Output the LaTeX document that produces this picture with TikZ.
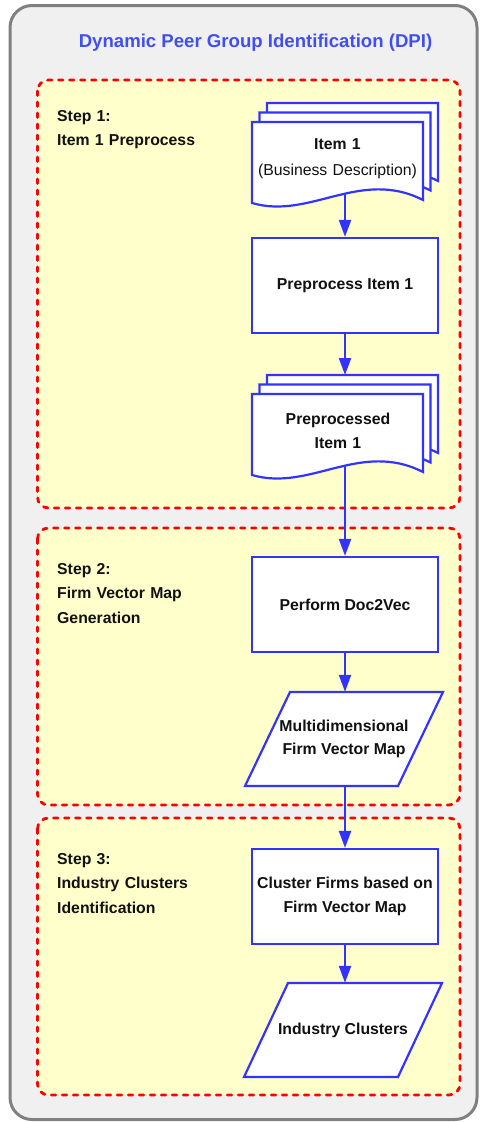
\documentclass[tikz,border=0pt]{standalone}
\usepackage{fontspec}
\setmainfont{Liberation Sans}
\usetikzlibrary{arrows.meta,calc}

\definecolor{flowblue}{RGB}{51,51,255}
\definecolor{titleblue}{RGB}{64,80,240}
\definecolor{stepfill}{RGB}{255,255,204}
\definecolor{panelfill}{RGB}{240,240,240}
\definecolor{panelrim}{RGB}{128,128,128}
\definecolor{inkblack}{RGB}{17,17,17}

\begin{document}
\begin{tikzpicture}[x=1pt,y=-1pt,
  panel/.style={draw=panelrim, line width=3pt, fill=panelfill, rounded corners=22pt},
  stepzone/.style={draw=red, fill=stepfill, line width=2.8pt,
    dash pattern=on 4.5pt off 6.5pt, line cap=round, rounded corners=11pt},
  titletext/.style={anchor=base, inner sep=0pt, text=titleblue,
    font=\fontsize{18.6}{22}\selectfont\bfseries},
  steplabel/.style={anchor=base west, text width=190pt, align=left, inner sep=0pt,
    font=\fontsize{15.8}{24.5}\selectfont\bfseries, text=inkblack},
  procbox/.style={draw=flowblue, fill=white, line width=2.2pt, minimum width=186pt,
    minimum height=95pt, align=center, inner sep=0pt,
    font=\fontsize{15.8}{24}\selectfont\bfseries, text=inkblack},
  sheet/.style={draw=flowblue, fill=white, line width=2.2pt},
  doctext/.style={anchor=base, text width=171pt, align=center, inner sep=0pt,
    font=\fontsize{15.8}{24}\selectfont\bfseries, text=inkblack},
  datatext/.style={minimum width=198pt, minimum height=94pt, align=center, inner sep=0pt,
    font=\fontsize{15.8}{23.5}\selectfont\bfseries, text=inkblack},
  flow/.style={draw=flowblue, line width=2.2pt, -{Triangle[length=17pt,width=12pt]}},
  docsheet/.pic={\draw[sheet] (0,0) -- (171,0) -- (171,78)
    .. controls (108,46) and (58,98) .. (0,81) -- cycle;}
]
\useasboundingbox (0,0) rectangle (481,1122);

% outer panel and the three step zones
\draw[panel] (10,5.5) rectangle (477,1119.5);
\draw[stepzone] (37.5,80) rectangle (460,508);
\draw[stepzone] (37.5,528) rectangle (460,805);
\draw[stepzone] (37.5,818) rectangle (460,1095);

\node[titletext] (title) at (255.5,47.7) {Dynamic Peer Group Identification (DPI)};

\node[steplabel] (s1) at (57,121) {Step 1:\\Item 1 Preprocess};
\node[steplabel] (s2) at (57,574) {Step 2:\\Firm Vector Map\\Generation};
\node[steplabel] (s3) at (57,864) {Step 3:\\Industry Clusters\\Identification};

% input document stack
\pic at (267,103) {docsheet};
\pic at (259.5,112.5) {docsheet};
\pic at (252,122) {docsheet};
\node[doctext, font=\fontsize{15.8}{26}\selectfont\bfseries] (d1) at (337.5,149)
  {Item 1\\{\mdseries (Business Description)}};
\coordinate (d1out) at (345,194);

\node[procbox] (pre) at (345,285.5) {Preprocess Item 1};

% preprocessed document stack
\pic at (267,375) {docsheet};
\pic at (259.5,384.5) {docsheet};
\pic at (252,394) {docsheet};
\node[doctext] (d2) at (338,424) {Preprocessed\\Item 1};
\coordinate (d2in) at (345,375);
\coordinate (d2out) at (345,466);

\node[procbox] (vec) at (345,604.5) {Perform Doc2Vec};

% firm vector map (data)
\coordinate (mapc) at (344,739);
\draw[sheet] ($(mapc)+(-54,-47)$) -- ($(mapc)+(99,-47)$) -- ($(mapc)+(54,47)$)
  -- ($(mapc)+(-99,47)$) -- cycle;
\node[datatext] (map) at (mapc) {Multidimensional\\Firm Vector Map};

\node[procbox] (clu) at (345,896.5) {Cluster Firms based on\\Firm Vector Map};

% industry clusters (data)
\coordinate (indc) at (343,1030);
\draw[sheet] ($(indc)+(-55,-47)$) -- ($(indc)+(99,-47)$) -- ($(indc)+(55,47)$)
  -- ($(indc)+(-99,47)$) -- cycle;
\node[datatext] (ind) at (indc) {Industry Clusters};

% connectors
\draw[flow] (d1out) -- (pre.north);
\draw[flow] (pre.south) -- (d2in);
\draw[flow] (d2out) -- (vec.north);
\draw[flow] (vec.south) -- (vec.south |- map.north);
\draw[flow] (clu.north |- map.south) -- (clu.north);
\draw[flow] (clu.south) -- (clu.south |- ind.north);
\end{tikzpicture}
\end{document}
